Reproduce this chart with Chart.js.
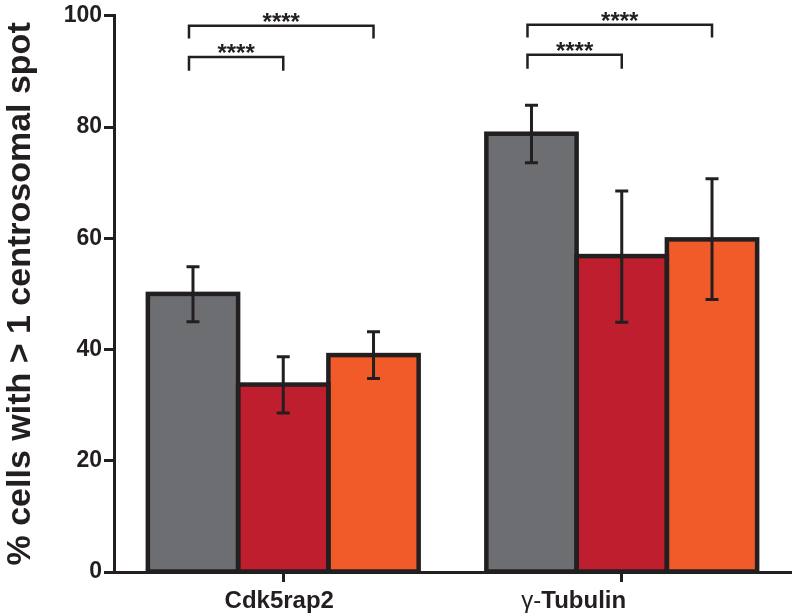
<!DOCTYPE html>
<html>
<head>
<meta charset="utf-8">
<script src="https://cdn.jsdelivr.net/npm/chart.js@4"></script>
<style>
  html, body { margin: 0; padding: 0; background: #fff; }
  #wrap { width: 792px; height: 615px; }
</style>
</head>
<body>
<div id="wrap"><canvas id="chart"></canvas></div>
<script>
const categories = ['Cdk5rap2', 'γ-Tubulin'];
const seriesNames = ['Control', 'Condition A', 'Condition B'];
const meanValues = [
  [50, 78.8],
  [33.7, 56.8],
  [39, 59.8]
];
const errLow = [
  [45, 73.6],
  [28.6, 44.9],
  [34.8, 49]
];
const errHigh = [
  [54.9, 83.9],
  [38.7, 68.5],
  [43.2, 70.7]
];
const yTicks = [0, 20, 40, 60, 80, 100];
// [category, fromSeries, toSeries, bracketY, tickBottomY, label]
const sigBrackets = [
  [0, 0, 2, 98.2, 95.9, '****'],
  [0, 0, 1, 92.6, 90.1, '****'],
  [1, 0, 2, 98.4, 96.1, '****'],
  [1, 0, 1, 93, 90.5, '****']
];

const colors = ['#6d6e71', '#be1e2d', '#f15a29'];
const ink = '#231f20';
const FONT = '"Liberation Sans", Arial, sans-serif';

const overlay = {
  id: 'overlay',
  afterDatasetsDraw(chart) {
    const ctx = chart.ctx;
    const y = chart.scales.y;
    const x = chart.scales.x;
    ctx.save();
    ctx.strokeStyle = ink;

    // bar outlines, centred on the bar edges so neighbours share one line
    ctx.lineWidth = 4.5;
    ctx.lineJoin = 'miter';
    meanValues.forEach((_, s) => {
      chart.getDatasetMeta(s).data.forEach(bar => {
        const w = bar.width;
        ctx.strokeRect(bar.x - w / 2, bar.y, w, bar.base - bar.y);
      });
    });

    // error bars
    ctx.lineWidth = 3;
    meanValues.forEach((_, s) => {
      chart.getDatasetMeta(s).data.forEach((bar, i) => {
        const bx = bar.x;
        const yl = y.getPixelForValue(errLow[s][i]);
        const yh = y.getPixelForValue(errHigh[s][i]);
        ctx.beginPath();
        ctx.moveTo(bx, yl); ctx.lineTo(bx, yh);
        ctx.moveTo(bx - 6.5, yl); ctx.lineTo(bx + 6.5, yl);
        ctx.moveTo(bx - 6.5, yh); ctx.lineTo(bx + 6.5, yh);
        ctx.stroke();
      });
    });

    // significance brackets
    ctx.lineWidth = 2.5;
    ctx.lineJoin = 'miter';
    ctx.fillStyle = ink;
    ctx.font = 'bold 24px ' + FONT;
    ctx.textAlign = 'center';
    ctx.textBaseline = 'alphabetic';
    sigBrackets.forEach(([c, a, b, top, bot, label]) => {
      const x1 = chart.getDatasetMeta(a).data[c].x - 4;
      const x2 = chart.getDatasetMeta(b).data[c].x;
      const yt = y.getPixelForValue(top);
      const yb = y.getPixelForValue(bot);
      ctx.beginPath();
      ctx.moveTo(x1, yb); ctx.lineTo(x1, yt); ctx.lineTo(x2, yt); ctx.lineTo(x2, yb);
      ctx.stroke();
      ctx.fillText(label, (x1 + x2) / 2, yt + 4);
    });

    // category labels (γ- is set in regular weight, the rest bold)
    const labelShift = [-4, -48];
    ctx.textAlign = 'left';
    categories.forEach((cat, i) => {
      const cx = x.getPixelForValue(i) + labelShift[i];
      let parts;
      if (cat.startsWith('γ-')) parts = [['γ-', 'normal'], [cat.slice(2), 'bold']];
      else parts = [[cat, 'bold']];
      let total = 0;
      parts.forEach(([t, wgt]) => { ctx.font = wgt + ' 24px ' + FONT; total += ctx.measureText(t).width; });
      let px = cx - total / 2;
      parts.forEach(([t, wgt]) => {
        ctx.font = wgt + ' 24px ' + FONT;
        ctx.fillText(t, px, 608);
        px += ctx.measureText(t).width;
      });
    });
    ctx.restore();
  }
};

new Chart(document.getElementById('chart'), {
  type: 'bar',
  data: {
    labels: categories,
    datasets: meanValues.map((vals, s) => ({
      label: seriesNames[s],
      data: vals,
      backgroundColor: colors[s],
      borderWidth: 0,
      categoryPercentage: 0.8,
      barPercentage: 1.0
    }))
  },
  options: {
    responsive: true,
    maintainAspectRatio: false,
    animation: false,
    layout: { padding: { top: 14, right: 1, left: 0, bottom: 0 } },
    plugins: {
      legend: { display: false },
      tooltip: { enabled: false }
    },
    scales: {
      x: {
        offset: true,
        border: { display: true, color: ink, width: 3 },
        grid: { display: true, offset: false, drawOnChartArea: false, drawTicks: true, tickLength: 10, tickWidth: 3, tickColor: ink },
        ticks: { display: false },
        afterFit(scale) { scale.height = 43; }
      },
      y: {
        min: 0,
        max: 100,
        border: { display: true, color: ink, width: 3 },
        grid: { display: true, drawOnChartArea: false, drawTicks: true, tickLength: 10, tickWidth: 3, tickColor: ink },
        afterBuildTicks(scale) { scale.ticks = yTicks.map(v => ({ value: v })); },
        ticks: {
          color: ink,
          padding: 2,
          font: { family: FONT, size: 23, weight: 'bold' }
        },
        title: {
          display: true,
          text: '% cells with > 1 centrosomal spot',
          color: ink,
          padding: { top: 0, bottom: 8 },
          font: { family: FONT, size: 34, weight: 'bold' }
        },
        afterFit(scale) { scale.width = 114; }
      }
    }
  },
  plugins: [overlay]
});
</script>
</body>
</html>
